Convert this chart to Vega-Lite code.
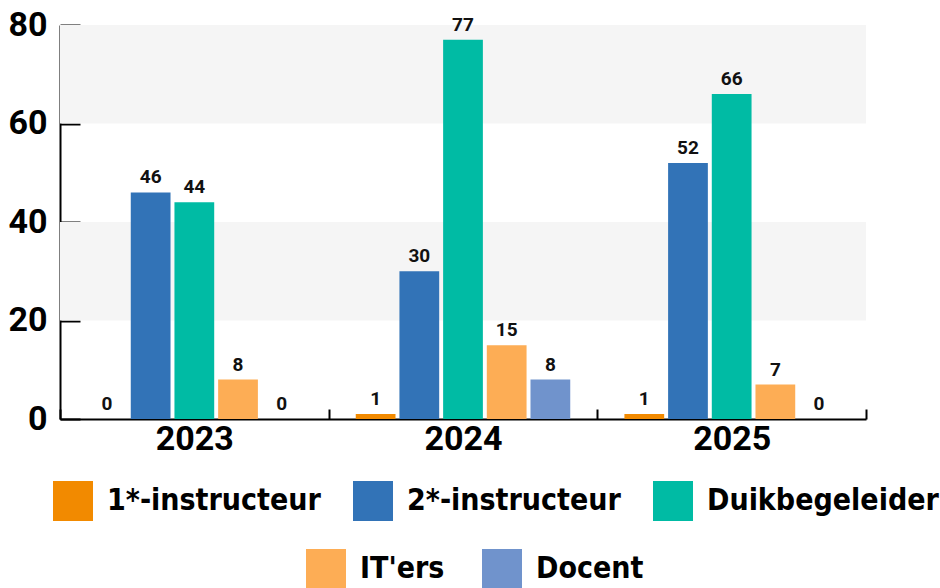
{
  "$schema": "https://vega.github.io/schema/vega-lite/v6.json",
  "width": 806,
  "height": 394,
  "autosize": {"type": "none"},
  "padding": {"left": 60, "top": 25, "right": 74, "bottom": 169},
  "background": "white",
  "data": {
    "values": [
      {"year": "2023", "cat": "1*-instructeur", "value": 0},
      {"year": "2023", "cat": "2*-instructeur", "value": 46},
      {"year": "2023", "cat": "Duikbegeleider", "value": 44},
      {"year": "2023", "cat": "IT'ers", "value": 8},
      {"year": "2023", "cat": "Docent", "value": 0},
      {"year": "2024", "cat": "1*-instructeur", "value": 1},
      {"year": "2024", "cat": "2*-instructeur", "value": 30},
      {"year": "2024", "cat": "Duikbegeleider", "value": 77},
      {"year": "2024", "cat": "IT'ers", "value": 15},
      {"year": "2024", "cat": "Docent", "value": 8},
      {"year": "2025", "cat": "1*-instructeur", "value": 1},
      {"year": "2025", "cat": "2*-instructeur", "value": 52},
      {"year": "2025", "cat": "Duikbegeleider", "value": 66},
      {"year": "2025", "cat": "IT'ers", "value": 7},
      {"year": "2025", "cat": "Docent", "value": 0}
    ]
  },
  "layer": [
    {
      "data": {"values": [{"lo": 20, "hi": 40}, {"lo": 60, "hi": 80}]},
      "mark": {"type": "rect", "color": "#f5f5f5"},
      "encoding": {
        "y": {"field": "lo", "type": "quantitative", "title": null, "scale": {"domain": [0, 80], "nice": false}, "axis": {"values": [0, 20, 40, 60, 80]}},
        "y2": {"field": "hi"}
      }
    },
    {
      "mark": {"type": "bar", "strokeWidth": 0},
      "encoding": {
        "x": {"field": "year", "type": "nominal", "title": null, "scale": {"paddingInner": 0, "paddingOuter": 0}, "axis": {"labelAngle": 0, "tickBand": "extent"}},
        "xOffset": {"field": "cat", "type": "nominal", "sort": ["1*-instructeur", "2*-instructeur", "Duikbegeleider", "IT'ers", "Docent"], "scale": {"domain": ["1*-instructeur", "2*-instructeur", "Duikbegeleider", "IT'ers", "Docent"], "paddingInner": 0.09, "paddingOuter": 0.62}},
        "y": {"field": "value", "type": "quantitative", "title": null, "scale": {"domain": [0, 80], "nice": false}, "axis": {"values": [0, 20, 40, 60, 80]}},
        "fill": {
          "field": "cat", "type": "nominal", "title": null,
          "scale": {"domain": ["1*-instructeur", "2*-instructeur", "Duikbegeleider", "IT'ers", "Docent"], "range": ["#f28a00", "#3273b7", "#00bba4", "#fdad55", "#7093cc"]},
          "legend": {"values": ["1*-instructeur", "2*-instructeur", "Duikbegeleider"], "orient": "none", "legendX": -7, "legendY": 456, "symbolSize": 1600, "symbolStrokeWidth": 0}
        },
        "stroke": {
          "field": "cat", "type": "nominal", "title": null,
          "scale": {"domain": ["IT'ers", "Docent"], "range": ["#fdad55", "#7093cc"]},
          "legend": {"values": ["IT'ers", "Docent"], "orient": "none", "legendX": 246, "legendY": 524, "symbolSize": 400, "symbolStrokeWidth": 20, "labelOffset": 14, "columnPadding": 7}
        }
      }
    },
    {
      "mark": {"type": "text", "font": "Roboto", "fontWeight": "bold", "fontSize": 19, "color": "#111111", "baseline": "alphabetic", "dy": -9},
      "encoding": {
        "x": {"field": "year", "type": "nominal", "title": null},
        "xOffset": {"field": "cat", "type": "nominal", "sort": ["1*-instructeur", "2*-instructeur", "Duikbegeleider", "IT'ers", "Docent"]},
        "y": {"field": "value", "type": "quantitative", "title": null},
        "text": {"field": "value", "type": "quantitative"}
      }
    }
  ],
  "config": {
    "view": {"stroke": null},
    "axis": {
      "grid": false,
      "zindex": 1,
      "domainColor": "black",
      "domainWidth": 2,
      "tickColor": "black",
      "tickWidth": 2,
      "labelFont": "Roboto",
      "labelFontWeight": "bold",
      "labelFontSize": 34,
      "labelColor": "black"
    },
    "axisY": {"tickSize": -20, "labelPadding": 33},
    "axisX": {"tickSize": -10, "labelPadding": 13},
    "legend": {
      "direction": "horizontal",
      "symbolType": "square",
      "labelFont": "DejaVu Sans Condensed",
      "labelFontSize": 30,
      "labelFontWeight": "bold",
      "labelColor": "black",
      "labelLimit": 400,
      "labelOffset": 14,
      "columnPadding": 32
    }
  }
}
